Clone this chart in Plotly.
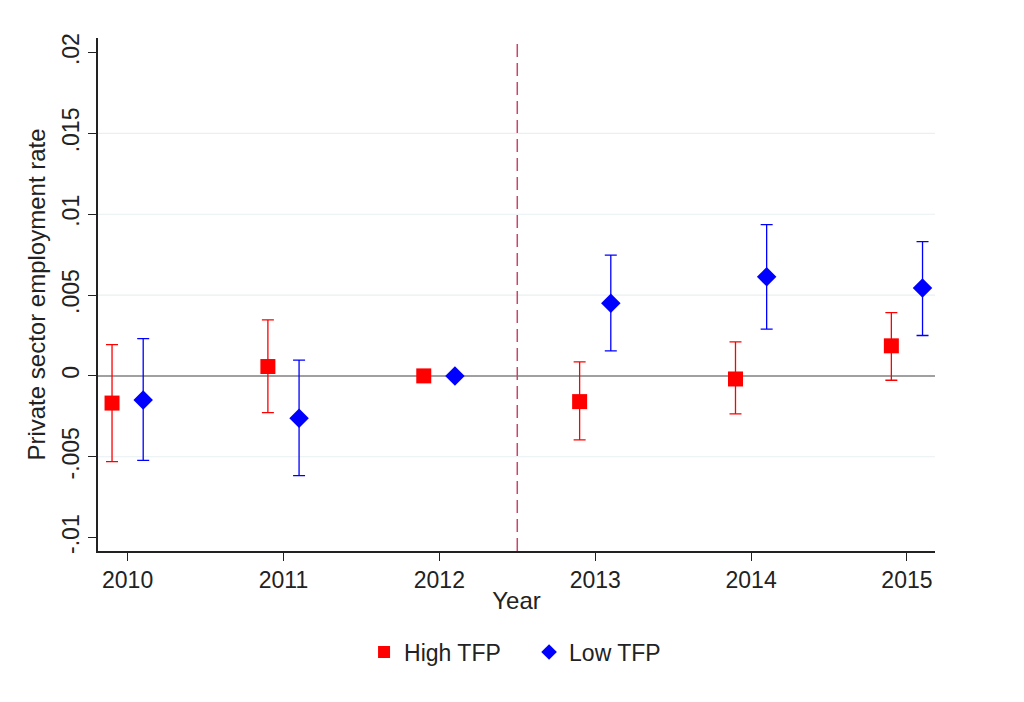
import plotly.graph_objects as go

years = [2010, 2011, 2012, 2013, 2014, 2015]

high_est = [-0.00168, 0.00058, 0.0, -0.00159, -0.00019, 0.00186]
high_lo = [-0.0053, -0.00227, 0.0, -0.00396, -0.00235, -0.00027]
high_hi = [0.00194, 0.00347, 0.0, 0.00087, 0.0021, 0.00392]

low_est = [-0.00149, -0.00262, 0.0, 0.0045, 0.00613, 0.00543]
low_lo = [-0.00522, -0.00617, 0.0, 0.00155, 0.00289, 0.0025]
low_hi = [0.00231, 0.00097, 0.0, 0.00747, 0.00936, 0.00831]

ytick_vals = [-0.01, -0.005, 0, 0.005, 0.01, 0.015, 0.02]
ytick_text = ["-.01", "-.005", "0", ".005", ".01", ".015", ".02"]
grid_vals = [-0.005, 0.005, 0.01, 0.015]

shift = 0.1
font = "Liberation Sans, Arial, sans-serif"

fig = go.Figure()

def add_series(name, est, lo, hi, color, symbol, size, dx):
    fig.add_trace(go.Scatter(
        x=[y + dx for y in years], y=est, mode="markers", name=name,
        marker=dict(color=color, symbol=symbol, size=size, line=dict(width=0)),
        error_y=dict(type="data", symmetric=False,
                     array=[h - e for h, e in zip(hi, est)],
                     arrayminus=[e - l for e, l in zip(est, lo)],
                     color=color, thickness=1.3, width=6,
                     visible=True),
    ))

add_series("High TFP", high_est, high_lo, high_hi, "#ff0000", "square", 15, -shift)
add_series("Low TFP", low_est, low_lo, low_hi, "#0000ff", "diamond", 15, shift)

for g in grid_vals:
    fig.add_shape(type="line", xref="paper", yref="y", x0=0, x1=1, y0=g, y1=g,
                  layer="below", line=dict(color="#e8f0f2", width=1.2))

fig.add_shape(type="line", xref="x", yref="paper", x0=2012.5, x1=2012.5, y0=0, y1=1,
              line=dict(color="#c8466a", width=1.5, dash="13px,6px"))

fig.update_layout(
    width=1024, height=702,
    margin=dict(l=98, r=89, t=38, b=151),
    paper_bgcolor="white", plot_bgcolor="white",
    font=dict(family=font, size=23, color="#222222"),
    showlegend=True,
    legend=dict(orientation="h", x=0.515, xanchor="center", y=-0.197, yanchor="middle",
                font=dict(size=23), itemsizing="constant", entrywidth=120),
    xaxis=dict(range=[2009.81, 2015.18], tickvals=years, ticktext=[str(y) for y in years],
               showgrid=False, zeroline=False, showline=True, linecolor="#222222", linewidth=1.5,
               ticks="outside", ticklen=8, tickcolor="#222222", tickwidth=1.3,
               title=dict(text="Year", standoff=0, font=dict(size=24)),
               tickfont=dict(size=23)),
    yaxis=dict(range=[-0.01083, 0.0209], tickvals=ytick_vals, ticktext=ytick_text,
               tickangle=-90, showgrid=False,
               zeroline=True, zerolinecolor="#a0a0a0", zerolinewidth=1.5,
               showline=True, linecolor="#222222", linewidth=1.5,
               ticks="outside", ticklen=8, tickcolor="#222222", tickwidth=1.3,
               title=dict(text="Private sector employment rate", standoff=6, font=dict(size=24)),
               tickfont=dict(size=23)),
)

fig.write_html("out.html")
